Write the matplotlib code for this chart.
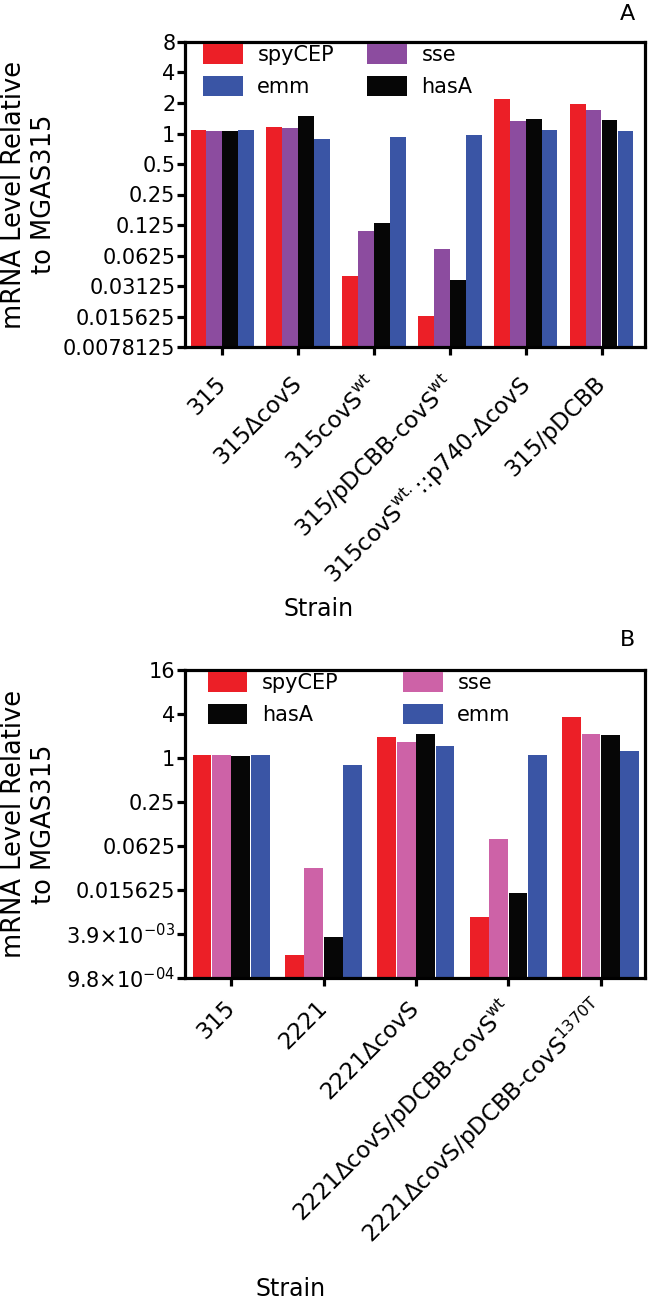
import numpy as np
import matplotlib
matplotlib.use('Agg')
import matplotlib.pyplot as plt
from matplotlib.ticker import FixedLocator, FixedFormatter, NullLocator

plt.rcParams['font.family'] = ['DejaVu Sans']
plt.rcParams['mathtext.fontset'] = 'dejavusans'

# Panel A data (log2 scale)
strains_a = ['315', '315\u0394covS', '315covS$^{\\mathrm{wt}}$',
             '315/pDCBB-covS$^{\\mathrm{wt}}$',
             '315covS$^{\\mathrm{wt.}}$::p740-\u0394covS', '315/pDCBB']
spycep_a = [1.08, 1.16, 0.039, 0.0158, 2.2, 1.94]
sse_a = [1.07, 1.14, 0.11, 0.072, 1.33, 1.69]
hasa_a = [1.06, 1.48, 0.13, 0.036, 1.40, 1.37]
emm_a = [1.08, 0.89, 0.93, 0.97, 1.08, 1.07]
yticks_a = [8, 4, 2, 1, 0.5, 0.25, 0.125, 0.0625, 0.03125, 0.015625, 0.0078125]
ylabels_a = ['8', '4', '2', '1', '0.5', '0.25', '0.125', '0.0625', '0.03125',
             '0.015625', '0.0078125']

# Panel B data
strains_b = ['315', '2221', '2221\u0394covS',
             '2221\u0394covS/pDCBB-covS$^{\\mathrm{wt}}$',
             '2221\u0394covS/pDCBB-covS$^{\\mathrm{1370T}}$']
spycep_b = [1.1, 0.0020, 1.94, 0.0067, 3.6]
sse_b = [1.09, 0.031, 1.67, 0.077, 2.15]
hasa_b = [1.08, 0.0035, 2.15, 0.014, 2.07]
emm_b = [1.11, 0.81, 1.47, 1.1, 1.24]
yticks_b = [16, 4, 1, 0.25, 0.0625, 0.015625, 2**-8, 2**-10]
ylabels_b = ['16', '4', '1', '0.25', '0.0625', '0.015625',
             '3.9\u00d710$^{-03}$', '9.8\u00d710$^{-04}$']

RED = '#EC1F27'
PURPLE = '#8C4C9F'
PINK = '#CD62A7'
BLACK = '#060606'
BLUE = '#3A55A5'

W, H = 652, 1299
fig = plt.figure(figsize=(W / 100, H / 100), dpi=100)

def px_axes(left, right, top, bottom):
    return fig.add_axes([left / W, 1 - bottom / H, (right - left) / W, (bottom - top) / H])

def style(ax, ymin, ymax, ticks, labels, xlim, tickpad):
    ax.set_yscale('log', base=2)
    ax.set_ylim(ymin, ymax)
    ax.yaxis.set_major_locator(FixedLocator(ticks))
    ax.yaxis.set_major_formatter(FixedFormatter(labels))
    ax.yaxis.set_minor_locator(NullLocator())
    ax.set_xlim(*xlim)
    for s in ax.spines.values():
        s.set_linewidth(2.3)
    ax.tick_params(axis='both', which='major', width=2.3, length=6,
                   labelsize=15, direction='out')
    ax.tick_params(axis='y', pad=1)
    ax.tick_params(axis='x', pad=tickpad, labelsize=16.5)
    ax.set_ylabel('mRNA Level Relative\nto MGAS315', fontsize=18.5)
    ax.yaxis.set_label_coords(-0.278, 0.5)

w = 0.21
offs = np.array([-1.5, -0.5, 0.5, 1.5]) * w

# ---- Panel A
axA = px_axes(185, 645, 42, 347)
xa = np.arange(len(strains_a))
ymin_a = 2 ** -7
series_a = [(spycep_a, RED, 'spyCEP'), (sse_a, PURPLE, 'sse'),
            (hasa_a, BLACK, 'hasA'), (emm_a, BLUE, 'emm')]
bars_a = {}
for (vals, col, name), o in zip(series_a, offs):
    v = np.array(vals)
    bars_a[name] = axA.bar(xa + o, v - ymin_a, w * 0.97, bottom=ymin_a, color=col, label=name)
style(axA, ymin_a, 8, yticks_a, ylabels_a, (-0.49, 5.57), 18)
axA.set_xticks(xa)
axA.set_xticklabels(strains_a, rotation=45, ha='right', va='center', rotation_mode='anchor')
axA.set_xlabel('Strain', fontsize=17)
axA.xaxis.set_label_coords(0.29, -0.82)
axA.legend([bars_a['spyCEP'], bars_a['emm'], bars_a['sse'], bars_a['hasA']],
           ['spyCEP', 'emm', 'sse', 'hasA'], ncol=2, loc='upper left',
           bbox_to_anchor=(0.035, 1.0), frameon=False, fontsize=15,
           handlelength=1.9, handleheight=1.1, handletextpad=0.7,
           columnspacing=1.6, labelspacing=0.5, borderpad=0.1, borderaxespad=0)
fig.text(627 / W, 1 - 14 / H, 'A', fontsize=16, ha='center', va='center')

# ---- Panel B
axB = px_axes(185, 645, 670, 978)
xb = np.arange(len(strains_b))
ymin_b = 2 ** -10
series_b = [(spycep_b, RED, 'spyCEP'), (sse_b, PINK, 'sse'),
            (hasa_b, BLACK, 'hasA'), (emm_b, BLUE, 'emm')]
bars_b = {}
for (vals, col, name), o in zip(series_b, offs):
    v = np.array(vals)
    bars_b[name] = axB.bar(xb + o, v - ymin_b, w * 0.97, bottom=ymin_b, color=col, label=name)
style(axB, ymin_b, 16, yticks_b, ylabels_b, (-0.5, 4.48), 13)
axB.set_xticks(xb)
axB.set_xticklabels(strains_b, rotation=45, ha='right', va='center', rotation_mode='anchor')
axB.set_xlabel('Strain', fontsize=17)
axB.xaxis.set_label_coords(0.23, -0.97)
axB.legend([bars_b['spyCEP'], bars_b['hasA'], bars_b['sse'], bars_b['emm']],
           ['spyCEP', 'hasA', 'sse', 'emm'], ncol=2, loc='upper left',
           bbox_to_anchor=(0.045, 1.0), frameon=False, fontsize=15,
           handlelength=1.9, handleheight=1.1, handletextpad=0.7,
           columnspacing=3.1, labelspacing=0.5, borderpad=0.1, borderaxespad=0)
fig.text(627 / W, 1 - 640 / H, 'B', fontsize=16, ha='center', va='center')

fig.savefig('out.png', dpi=100)
